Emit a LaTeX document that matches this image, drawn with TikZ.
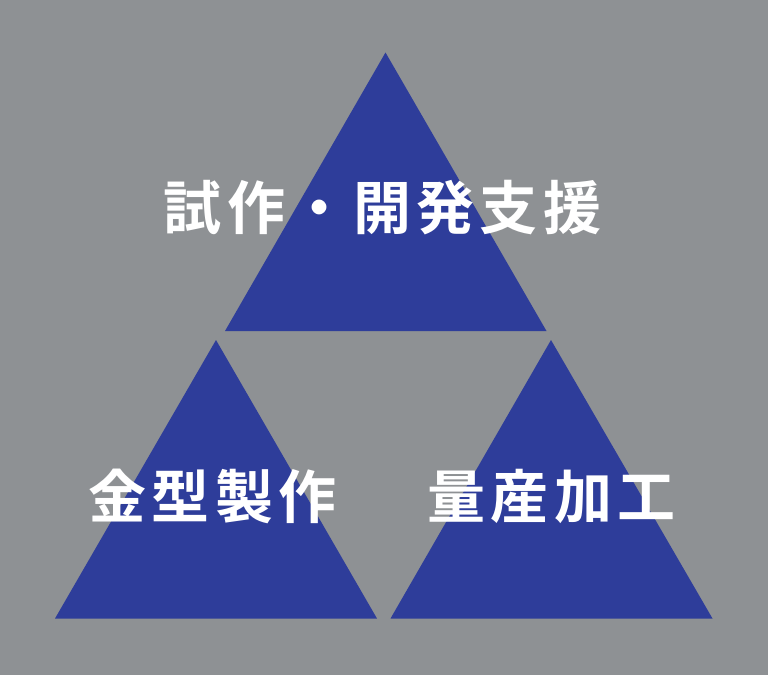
\documentclass[tikz,border=0pt]{standalone}
\usepackage{fontspec}
\newfontfamily\cjk{Noto Sans CJK JP}[BoldFont={Noto Sans CJK JP Bold},LetterSpace=9]
\definecolor{bggray}{RGB}{142,145,148}
\definecolor{triblue}{RGB}{46,61,154}

\begin{document}
\begin{tikzpicture}[x=1pt,y=-1pt]
\tikzset{label text/.style={text=white,font=\cjk\bfseries\fontsize{58}{60}\selectfont,inner sep=0pt}}

\fill[bggray] (0,0) rectangle (768,675);
\useasboundingbox (0,0) rectangle (768,675);

\coordinate (T) at (385.5,52.5);
\coordinate (TL) at (225,331);
\coordinate (TR) at (546.5,331);
\coordinate (L) at (216,340);
\coordinate (LL) at (55,618.5);
\coordinate (LR) at (377,618.5);
\coordinate (R) at (551,340);
\coordinate (RL) at (390.5,618.5);
\coordinate (RR) at (712.5,618.5);

\fill[triblue] (T) -- (TL) -- (TR) -- cycle;
\fill[triblue] (L) -- (LL) -- (LR) -- cycle;
\fill[triblue] (R) -- (RL) -- (RR) -- cycle;

\node[label text] (shisaku) at (382.5,208) {試作・開発支援};
\node[label text] (kanagata) at (212.5,496) {金型製作};
\node[label text] (ryosan) at (551.5,496) {量産加工};

\end{tikzpicture}
\end{document}
